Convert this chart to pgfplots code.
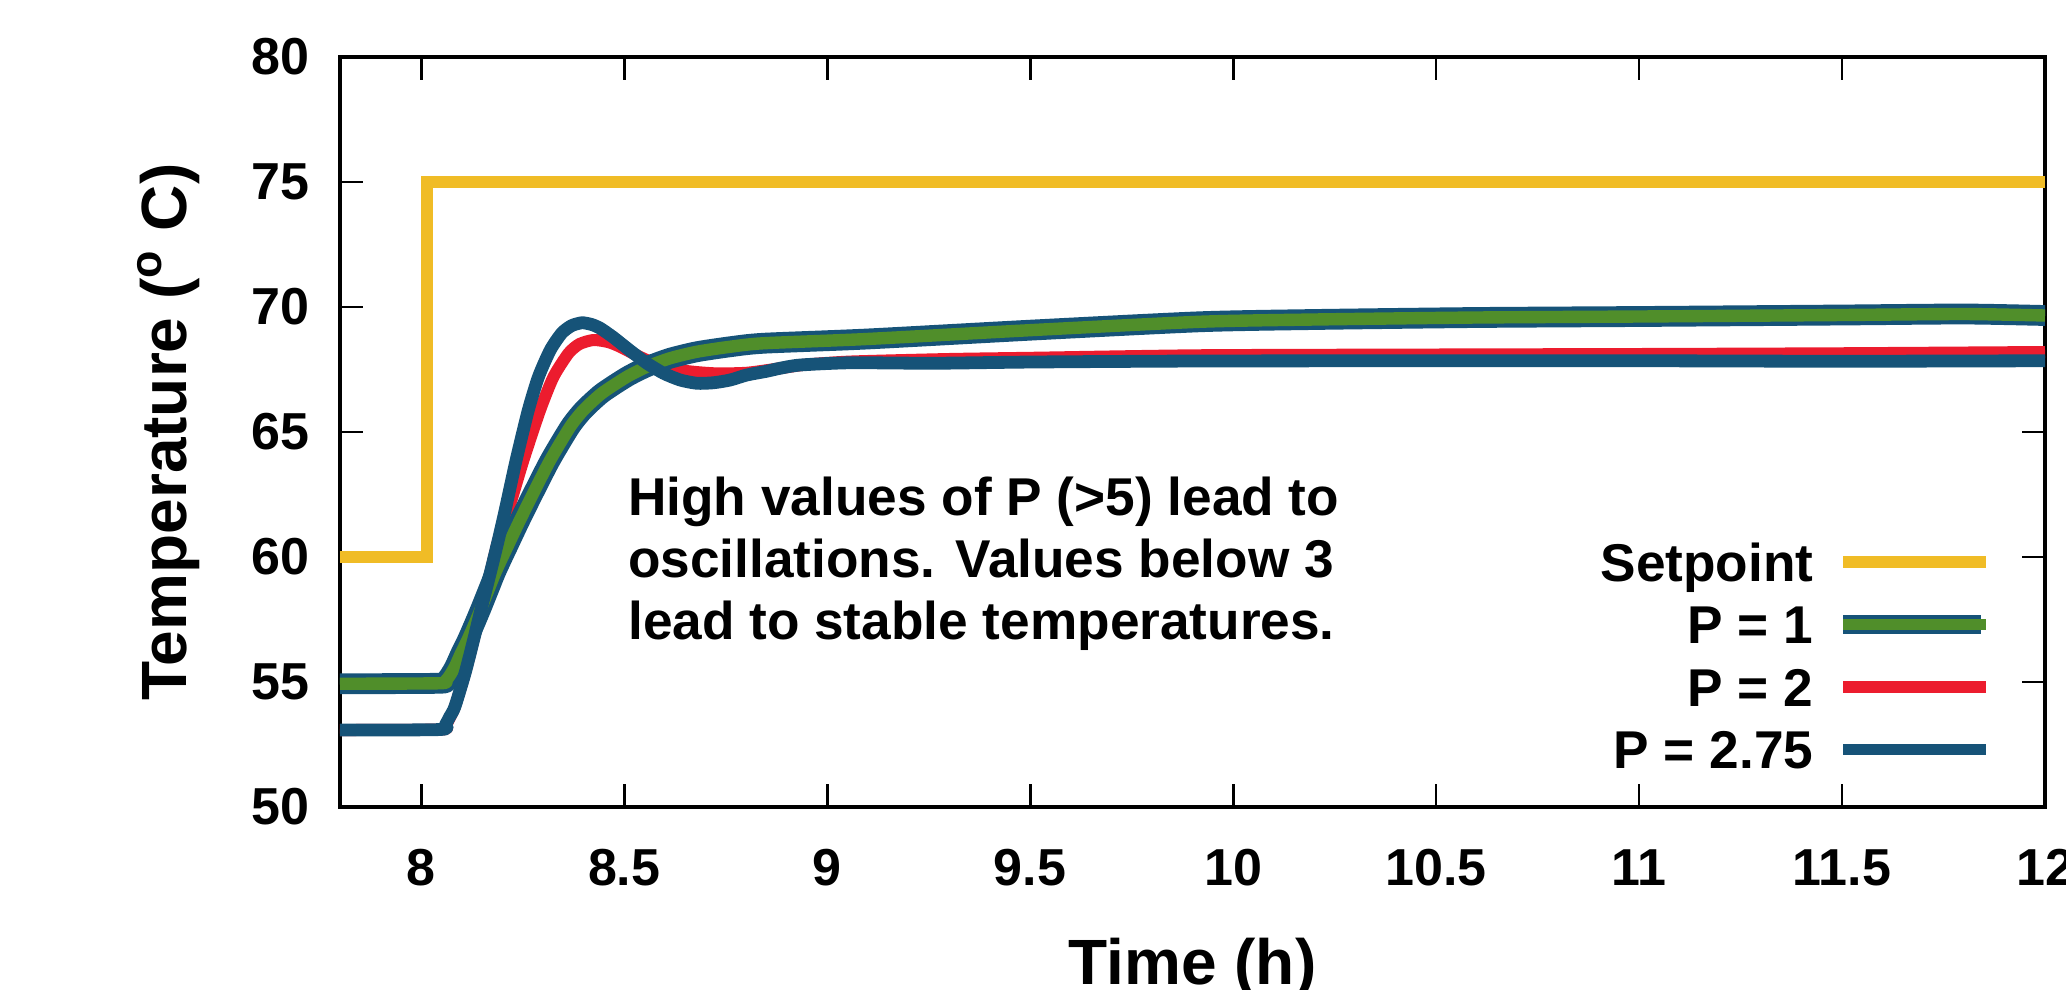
\documentclass[border=0pt]{standalone}
\usepackage{fontspec}
\setmainfont{Liberation Sans}
\usepackage{pgfplots}
\usepackage{pgfplotstable}
\pgfplotsset{compat=1.18}
\definecolor{yellowC}{RGB}{240,188,38}
\definecolor{greenC}{RGB}{80,142,42}
\definecolor{redC}{RGB}{236,28,46}
\definecolor{blueC}{RGB}{22,83,120}

\pgfplotstableread{
x y
7.8 60
8.015 60
8.015 75
12 75
}\setpoint

\pgfplotstableread{
x y
7.8 54.93
8.045 54.95
8.06 55.05
8.07 55.25
8.083 55.61
8.098 56.15
8.114 56.68
8.132 57.35
8.149 58.01
8.166 58.7
8.182 59.35
8.198 59.92
8.212 60.4
8.227 60.92
8.244 61.5
8.276 62.55
8.318 63.88
8.367 65.21
8.40 65.88
8.445 66.55
8.507 67.21
8.556 67.61
8.613 67.95
8.679 68.21
8.761 68.41
8.843 68.55
9.098 68.72
9.508 69.08
9.919 69.41
10.2 69.5
10.6 69.58
11.0 69.62
11.5 69.68
11.8 69.72
12 69.66
}\pone

\pgfplotstableread{
x y
7.8 53.08
8.048 53.1
8.06 53.25
8.07 53.55
8.083 54.01
8.108 55.35
8.129 56.68
8.149 58.01
8.17 59.35
8.19 60.68
8.215 61.88
8.252 63.88
8.293 65.88
8.326 67.21
8.363 68.15
8.39 68.52
8.424 68.68
8.46 68.6
8.49 68.41
8.556 67.88
8.638 67.48
8.72 67.35
8.802 67.37
8.884 67.55
8.95 67.7
9.06 67.82
9.3 67.92
9.508 67.97
9.919 68.07
10.5 68.1
11 68.12
11.5 68.15
12 68.2
}\ptwo

\pgfplotstableread{
x y
7.8 53.08
8.048 53.1
8.06 53.3
8.07 53.6
8.083 54.01
8.108 55.35
8.129 56.68
8.149 58.01
8.17 59.35
8.19 60.68
8.207 61.88
8.234 63.88
8.264 65.88
8.289 67.21
8.318 68.28
8.346 68.95
8.37 69.25
8.396 69.37
8.42 69.3
8.441 69.15
8.473 68.79
8.515 68.25
8.556 67.75
8.597 67.35
8.638 67.08
8.679 66.95
8.72 66.97
8.761 67.08
8.802 67.28
8.851 67.43
8.884 67.55
8.934 67.68
9.057 67.77
9.262 67.75
9.508 67.8
9.919 67.84
10.5 67.85
11 67.85
11.5 67.83
12 67.85
}\pthree

\begin{document}
\begin{tikzpicture}
\begin{axis}[
  scale only axis, width=426.25pt, height=187.5pt,
  xmin=7.8, xmax=12, ymin=50, ymax=80,
  xtick={8,8.5,9,9.5,10,10.5,11,11.5,12},
  ytick={50,55,60,65,70,75,80},
  /pgf/number format/assume math mode=true,
  tick label style={font=\fontsize{13}{15}\selectfont\bfseries},
  xticklabel style={anchor=base, yshift=-19.6pt},
  yticklabel style={anchor=east, inner sep=0pt, xshift=-7.5pt},
  axis line style={line width=0.8pt},
  tick style={black, line width=0.7pt},
  major tick length=5.75pt,
  xlabel={Time (h)},
  ylabel={Temperature (\textsuperscript{o} C)},
  every axis x label/.style={at={(axis description cs:0.5,-0.2373)}, anchor=base,
    font=\fontsize{16}{19}\selectfont\bfseries},
  every axis y label/.style={at={(axis description cs:-0.1003,0.5)}, rotate=90, anchor=center,
    font=\fontsize{16}{19}\selectfont\bfseries},
  legend image code/.code={\draw[#1] (0pt,0pt) -- (35.75pt,0pt);},
  legend plot pos=right,
  legend cell align=right,
  legend style={draw=none, fill=none, at={(rel axis cs:1,0)}, anchor=south east,
    xshift=-13pt, yshift=9.45pt, inner sep=0pt, row sep=6.05pt, column sep=5.1pt,
    font=\fontsize{13.3}{15}\selectfont\bfseries,
    nodes={inner sep=0pt, text height=9.55pt, text depth=0pt}},
]
\addplot[yellowC, line width=3pt, forget plot] table {\setpoint};
\addplot[redC, line width=3pt, line join=round, smooth, tension=0.4, forget plot] table {\ptwo};
\addplot[blueC, line width=5.2pt, line join=round, smooth, tension=0.4, forget plot] table {\pone};
\addplot[greenC, line width=3.1pt, line join=round, smooth, tension=0.4, forget plot] table {\pone};
\addplot[blueC, line width=3.2pt, line join=round, smooth, tension=0.4, forget plot] table {\pthree};

\addlegendimage{yellowC, line width=2.9pt}
\addlegendentry{Setpoint}
\addlegendimage{legend image code/.code={\draw[blueC, line width=4.8pt] (0pt,0pt) -- (34.5pt,0pt); \draw[greenC, line width=2.9pt] (0pt,0pt) -- (35.75pt,0pt);}}
\addlegendentry{P = 1}
\addlegendimage{redC, line width=2.9pt}
\addlegendentry{P = 2}
\addlegendimage{blueC, line width=2.9pt}
\addlegendentry{P = 2.75}

\node[anchor=north west, align=left, inner sep=0pt, font=\fontsize{13.3}{15.6}\selectfont\bfseries]
  at (axis cs:8.508,63.25) {High values of P (>5) lead to\\oscillations. Values below 3\\lead to stable temperatures.};
\end{axis}
\pgfresetboundingbox
\path[use as bounding box] ([shift={(-85pt,-45.5pt)}]current axis.south west) rectangle ([shift={(5.25pt,14.25pt)}]current axis.north east);
\end{tikzpicture}
\end{document}
